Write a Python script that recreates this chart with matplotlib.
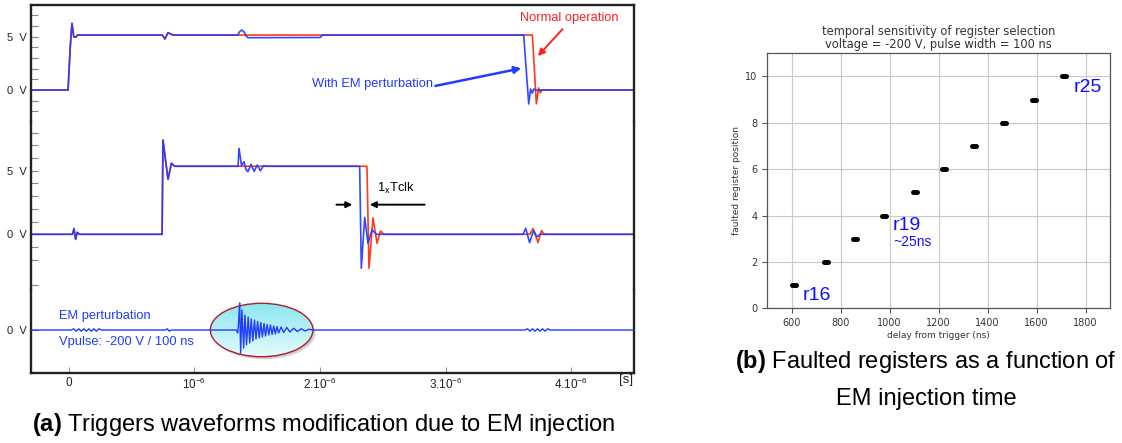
import numpy as np
import matplotlib
matplotlib.use("Agg")
import matplotlib.pyplot as plt
from matplotlib.patches import Ellipse
from matplotlib.colors import LinearSegmentedColormap

plt.rcParams['mathtext.fontset'] = 'custom'
plt.rcParams['mathtext.rm'] = 'Liberation Sans'
plt.rcParams['mathtext.bf'] = 'Liberation Sans:bold'

# ---- (a) oscilloscope traces, time in microseconds ----
# trigger 1
t1_red = [-0.30, -0.005, 0.012, 0.026, 0.040, 0.055, 0.07, 0.745, 0.765, 0.79, 0.83,
          3.689, 3.721, 3.739, 3.752, 3.765, 4.50]
v1_red = [0, 0, 4.0, 6.26, 5.0, 4.95, 5.16, 5.16, 4.79, 5.38, 5.16,
          5.16, -1.3, 0.2, -0.25, 0, 0]
t1_blue = [-0.30, -0.005, 0.012, 0.026, 0.040, 0.055, 0.07, 0.745, 0.765, 0.79, 0.83,
           1.345, 1.362, 1.378, 1.395, 1.413, 1.427, 2.0, 2.02,
           3.620, 3.660, 3.675, 3.688, 3.700, 3.715, 4.50]
v1_blue = [0, 0, 4.0, 6.26, 5.0, 4.95, 5.16, 5.16, 4.79, 5.38, 5.16,
           5.16, 5.5, 5.63, 5.45, 5.05, 4.91, 4.93, 5.16,
           5.16, -1.31, 0.1, -0.3, 0.1, 0, 0]

# trigger 2
t2_red = [-0.30, 0.030, 0.042, 0.055, 0.068, 0.085, 0.743, 0.750, 0.790, 0.817, 0.843,
          2.373, 2.389, 2.421, 2.453, 2.480, 2.510, 3.670, 3.694, 3.734, 3.761, 3.785, 4.50]
v2_red = [0, 0, 0.45, -0.4, 0.15, 0, 0, 7.41, 4.32, 5.58, 5.35,
          5.35, -2.67, 1.3, -0.7, 0.25, 0, 0, 0.45, -0.65, 0.3, 0, 0]
t2_blue = [-0.30, 0.030, 0.042, 0.055, 0.068, 0.085, 0.743, 0.750, 0.790, 0.817, 0.843,
           1.347, 1.355, 1.375, 1.395, 1.410, 1.426, 1.450, 1.475, 1.500, 1.525, 1.550, 1.580,
           2.315, 2.328, 2.355, 2.381, 2.413, 2.450, 3.615, 3.636, 3.667, 3.699, 3.726, 3.750, 4.50]
v2_blue = [0, 0, 0.45, -0.4, 0.15, 0, 0, 7.41, 4.32, 5.58, 5.35,
           5.35, 6.76, 5.4, 5.71, 5.1, 4.92, 5.5, 4.95, 5.45, 5.0, 5.4, 5.35,
           5.35, -2.67, 1.34, -0.71, 0.34, 0, 0, 0.47, -0.66, 0.29, -0.2, 0, 0]

# EM probe (arbitrary units)
t3 = [-0.30, 0.02, 0.04, 0.06, 0.08, 0.10, 0.12, 0.14, 0.16, 0.18, 0.20, 0.22, 0.24, 0.26,
      0.77, 0.785, 0.80, 0.815,
      1.334, 1.345, 1.352, 1.360, 1.368, 1.378, 1.392, 1.402, 1.415, 1.428, 1.440, 1.452,
      1.465, 1.478, 1.490, 1.503, 1.516, 1.528, 1.541, 1.554, 1.566, 1.579, 1.592, 1.605,
      1.618, 1.631, 1.644, 1.657, 1.670, 1.690, 1.710, 1.735, 1.760, 1.790, 1.820, 1.850,
      1.880, 1.910, 1.944,
      3.63, 3.65, 3.67, 3.69, 3.71, 3.73, 3.75, 3.77, 3.79, 3.81, 3.83, 4.50]
v3 = [0, 0, 1.2, -1.2, 1.2, -1.2, 1.2, -1.2, 1.2, -1.2, 1.2, -1.2, 1.2, 0,
      0, 1.2, -1.2, 0,
      0, -3, 8, 27, -23, 20, -18, 15, -15, 13, -13, 11,
      -11, 10, -9, 8.5, -8, 7.5, -7, 6.5, -6, 5.5, -5, 5,
      -4.5, 4, -4, 3.5, -3, 3, -2.5, 2.5, -2, 1.7, -1.5, 1.2,
      -1, 0.7, 0,
      0, 1.2, -1.2, 1.2, -1.2, 1.2, -1.2, 1.2, -1.2, 1.2, 0, 0]

time_ticks = [0, 1, 2, 3, 4]
time_labels = ["0", "$10^{-6}$", "$2.10^{-6}$", "$3.10^{-6}$", "$4.10^{-6}$"]

# ---- (b) faulted register vs delay ----
reg_pos = [1, 2, 3, 4, 5, 6, 7, 8, 9, 10]
delay_start = [600, 731, 851, 969, 1094, 1215, 1338, 1459, 1580, 1704]
delay_end = [616, 747, 867, 985, 1110, 1231, 1354, 1475, 1596, 1720]

RED = '#ff3a1a'
BLUE = '#1f3cff'
SANS = 'Liberation Sans'

fig = plt.figure(figsize=(11.22, 4.43), dpi=100)
W, H = 1122, 443


def px_axes(x0, y0, x1, y1):
    return fig.add_axes([x0 / W, 1 - y1 / H, (x1 - x0) / W, (y1 - y0) / H])


ax1 = px_axes(31, 5, 634.3, 122)
ax2 = px_axes(31, 122, 634.3, 290)
ax3 = px_axes(31, 290, 634.3, 372.7)

ax1.plot(t1_red, v1_red, color=RED, lw=1.2)
ax1.plot(t1_blue, v1_blue, color=BLUE, lw=1.2, alpha=0.93)
ax2.plot(t2_red, v2_red, color=RED, lw=1.2)
ax2.plot(t2_blue, v2_blue, color=BLUE, lw=1.2, alpha=0.93)
ax3.plot(t3, v3, color=BLUE, lw=1.0, zorder=4)

ax1.set_ylim(-3.0, 7.98)
ax2.set_ylim(-4.38, 8.83)
ax3.set_ylim(-42.7, 40)

for ax in (ax1, ax2, ax3):
    ax.set_xlim(-0.3, 4.5)
    for s in ax.spines.values():
        s.set_color('#222222')
        s.set_linewidth(1.7)
    ax.tick_params(axis='y', which='both', direction='in', length=5, width=0.8,
                   color='#888888', labelsize=8, labelcolor='#222222', pad=3)

ax1.spines['bottom'].set_visible(False)
ax2.spines['top'].set_visible(False)
ax2.spines['bottom'].set_visible(False)
ax3.spines['top'].set_visible(False)
ax1.set_xticks([])
ax2.set_xticks([])

ax1.set_yticks([0, 5])
ax1.set_yticklabels(["0  V", "5  V"], fontfamily=SANS)
ax1.set_yticks([-2, -1, 1, 2, 3, 4, 6, 7], minor=True)
ax2.set_yticks([0, 5])
ax2.set_yticklabels(["0  V", "5  V"], fontfamily=SANS)
ax2.set_yticks([-4, -2, -1, 1, 2, 3, 4, 6, 7, 8], minor=True)
ax3.set_yticks([0])
ax3.set_yticklabels(["0  V"], fontfamily=SANS)

ax3.set_xticks(time_ticks)
ax3.set_xticklabels(time_labels, fontfamily=SANS)
ax3.tick_params(axis='x', direction='in', length=4, width=0.8, color='#999999',
                labelsize=8.5, labelcolor='#222222', pad=3)
fig.text(626 / W, 1 - 380 / H, "[s]", fontsize=9.5, family=SANS, color='#222222',
         ha='center', va='center')

# ellipse around the EM pulse
ell_c, ell_w, ell_h = 1.535, 0.816, 53.4
shadow = Ellipse((ell_c + 0.02, -2.5), ell_w, ell_h, facecolor='#999999', edgecolor='none',
                 alpha=0.45, zorder=1)
ax3.add_patch(shadow)
ell = Ellipse((ell_c, 0), ell_w, ell_h, facecolor='none', edgecolor='#b01c28', lw=1.0, zorder=3)
ax3.add_patch(ell)
cmap = LinearSegmentedColormap.from_list('cy', ['#8be6f0', '#e6fbfd'])
grad = np.linspace(0, 1, 64).reshape(-1, 1)
im = ax3.imshow(grad, cmap=cmap, aspect='auto', origin='upper', zorder=2,
                extent=[ell_c - ell_w / 2, ell_c + ell_w / 2, -ell_h / 2, ell_h / 2])
im.set_clip_path(ell)
ax3.set_xlim(-0.3, 4.5)
ax3.set_ylim(-42.7, 40)

# annotations
ax1.annotate("With EM perturbation", xy=(3.601, 2.04), xytext=(1.933, 0.56),
             color=BLUE, fontsize=9.3, family=SANS, va='center', ha='left',
             arrowprops=dict(arrowstyle='-|>', color=BLUE, lw=1.8, shrinkA=0, shrinkB=0,
                             mutation_scale=10, relpos=(1.0, 0.3)))
ax1.annotate("Normal operation", xy=(3.733, 3.19), xytext=(3.588, 6.73),
             color='#ff2020', fontsize=9.3, family=SANS, va='center', ha='left',
             arrowprops=dict(arrowstyle='-|>', color='#ff2020', lw=1.4, shrinkA=2, shrinkB=0,
                             mutation_scale=10, relpos=(0.48, 0.0)))
ax2.text(2.450, 3.64, r"1$_{\mathrm{x}}$Tclk", fontsize=9.3, family=SANS, color='black',
         va='center', ha='left')
ax2.annotate("", xy=(2.257, 2.33), xytext=(2.130, 2.33),
             arrowprops=dict(arrowstyle='-|>', color='black', lw=1.4, shrinkA=0, shrinkB=0,
                             mutation_scale=9))
ax2.annotate("", xy=(2.395, 2.33), xytext=(2.832, 2.33),
             arrowprops=dict(arrowstyle='-|>', color='black', lw=1.4, shrinkA=0, shrinkB=0,
                             mutation_scale=9))
ax3.text(-0.08, 14, "EM perturbation", fontsize=9.3, family=SANS, color=BLUE,
         va='center', ha='left')
ax3.text(-0.08, -11.7, "Vpulse: -200 V / 100 ns", fontsize=9.3, family=SANS, color=BLUE,
         va='center', ha='left')

# ---- (b) ----
axb = px_axes(767.3, 53.3, 1110, 308.3)
for y, a, b in zip(reg_pos, delay_start, delay_end):
    axb.plot([a, b], [y, y], color='black', lw=3.6, solid_capstyle='round', zorder=3)
axb.set_xlim(500, 1900)
axb.set_ylim(0, 11)
axb.set_xticks(range(600, 1801, 200))
axb.set_yticks(range(0, 11, 2))
axb.grid(True, color='#c8c8c8', lw=0.8)
axb.set_axisbelow(True)
for s in axb.spines.values():
    s.set_color('#555555')
    s.set_linewidth(0.9)
axb.tick_params(labelsize=7, labelcolor='#333333', length=3.5, width=0.8, color='#555555')
axb.set_title("temporal sensitivity of register selection\nvoltage = -200 V, pulse width = 100 ns",
              fontsize=8.3, color='#333333', pad=3.5, linespacing=1.05)
axb.set_xlabel("delay from trigger (ns)", fontsize=6.5, color='#333333', labelpad=2.5)
axb.set_ylabel("faulted register position", fontsize=6.5, color='#333333', labelpad=3)
axb.text(645, 0.36, "r16", fontsize=14, family=SANS, color='#1010ff', va='baseline')
axb.text(1012, 3.38, "r19", fontsize=14, family=SANS, color='#1010ff', va='baseline')
axb.text(1015, 2.88, "~25ns", fontsize=10, family=SANS, color='#1010ff', va='center')
axb.text(1751, 9.35, "r25", fontsize=14, family=SANS, color='#1010ff', va='baseline')

# captions
fig.text(323.5 / W, 1 - 425 / H, r"$\mathbf{(a)}$ Triggers waveforms modification due to EM injection",
         fontsize=17, family=SANS, ha='center', va='center')
fig.text(925.8 / W, 1 - 361.7 / H, r"$\mathbf{(b)}$ Faulted registers as a function of",
         fontsize=17, family=SANS, ha='center', va='center')
fig.text(926 / W, 1 - 399 / H, "EM injection time",
         fontsize=17, family=SANS, ha='center', va='center')

fig.savefig("out.png", dpi=100)
